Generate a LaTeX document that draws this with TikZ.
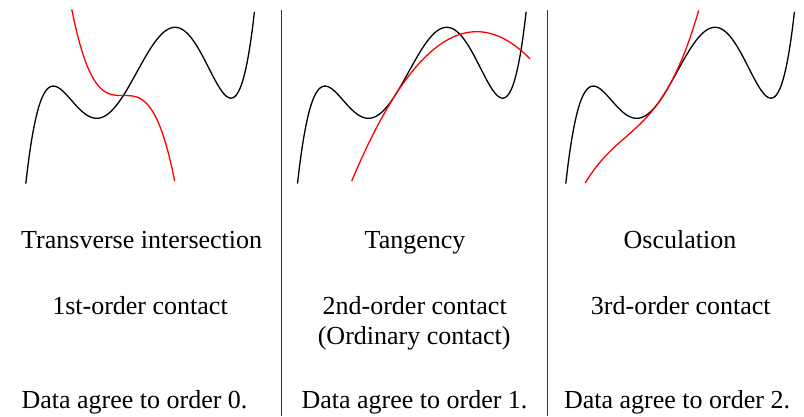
\documentclass[tikz,border=0pt]{standalone}
\usepackage{fontspec}
\setmainfont{Liberation Serif}
\tikzset{
  declare function={
    blk(\s)=15.069*\s*(0.11957+\s*(-0.029475+\s*(-0.3147+\s*(0.01+\s*0.2))));
    blkd(\s)=15.069*(0.11957+\s*(-0.05895+\s*(-0.9441+\s*(0.04+\s))));
    blkdd(\s)=15.069*(-0.05895+\s*(-1.8882+\s*(0.12+4*\s)));
  },
  wiggle/.style={line width=1.3pt, black, smooth, samples=140},
  touch/.style={line width=1.3pt, red, smooth, samples=100},
  sepline/.style={line width=1pt, black!80},
  lbl/.style={anchor=base, inner sep=0pt, font=\fontsize{26}{30}\selectfont},
}
\begin{document}
\begin{tikzpicture}[x=100pt,y=100pt]
		\useasboundingbox (0,0) rectangle (8.04,-4.16);
		% point of contact
		\def\sc{-0.167}
		
		% Transverse intersection
		\draw[wiggle] plot[domain=-1.142:1.146] ({1.4+\x},{blk(\x)-0.664});
		\draw[touch] plot[domain=-0.515:0.515] ({1.4+\sc+\x},{blk(\sc)-0.664-6.3*(\x)*(\x)*(\x)});
		
		% Tangency
		\def\xb{2.717}
		\draw[wiggle] plot[domain=-1.142:1.146] ({\xb+1.4+\x},{blk(\x)-0.664});
		\draw[touch] plot[domain=-0.433:1.35] ({\xb+1.4+\sc+\x},{blk(\sc)-0.664+blkd(\sc)*(\x)-0.956*(\x)*(\x)});
		
		% Osculation
		\def\xc{5.40}
		\draw[wiggle] plot[domain=-1.142:1.146] ({\xc+1.4+\x},{blk(\x)-0.664});
		\draw[touch] plot[domain=-0.782:0.355] ({\xc+1.4+\sc+\x},{blk(\sc)-0.664+blkd(\sc)*(\x)+0.5*blkdd(\sc)*(\x)*(\x)+1.6*(\x)*(\x)*(\x)});
		
		% separators
		\coordinate (septopa) at (2.817,-0.10);
		\coordinate (sepbota) at (2.817,-4.16);
		\coordinate (septopb) at (5.472,-0.10);
		\coordinate (sepbotb) at (5.472,-4.16);
		\draw[sepline] (septopa) -- (sepbota);
		\draw[sepline] (septopb) -- (sepbotb);
		
		% labels
		\node[lbl] (titlea) at (1.417,-2.483) {Transverse intersection};
		\node[lbl] (titleb) at (4.150,-2.483) {Tangency};
		\node[lbl] (titlec) at (6.800,-2.483) {Osculation};
		\node[lbl] (ordera) at (1.400,-3.140) {1st-order contact};
		\node[lbl] (orderb) at (4.147,-3.140) {2nd-order contact};
		\node[lbl] (ordinary) at (4.142,-3.440) {(Ordinary contact)};
		\node[lbl] (orderc) at (6.808,-3.140) {3rd-order contact};
		\node[lbl] (dataa) at (1.345,-4.083) {Data agree to order 0.};
		\node[lbl] (datab) at (4.145,-4.083) {Data agree to order 1.};
		\node[lbl] (datac) at (6.770,-4.083) {Data agree to order 2.};
	\end{tikzpicture}
\end{document}
